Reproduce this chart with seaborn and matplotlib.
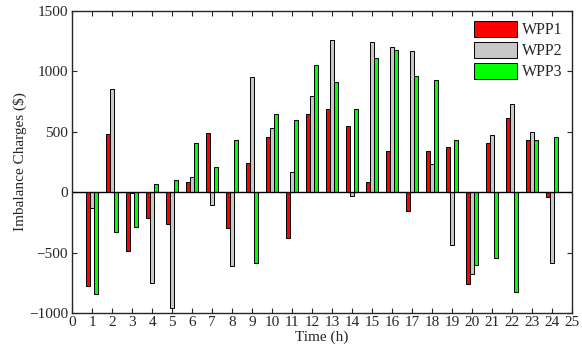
import pandas as pd
import numpy as np
import matplotlib
matplotlib.use("Agg")
import matplotlib.pyplot as plt
import seaborn as sns

hours = list(range(1, 25))
wpp1 = [-780, 480, -490, -215, -260, 85, 490, -300, 245, 455, -380, 650,
        685, 545, 80, 340, -160, 340, 375, -760, 405, 610, 430, -40]
wpp2 = [-130, 850, -10, -755, -960, 125, -110, -615, 950, 530, 165, 800,
        1260, -30, 1240, 1205, 1165, 230, -435, -680, 475, 730, 500, -590]
wpp3 = [-840, -330, -290, 65, 100, 410, 205, 435, -585, 645, 600, 1055,
        910, 685, 1110, 1175, 960, 925, 430, -600, -545, -825, 435, 455]

df = pd.DataFrame({"Hour": hours * 3,
                   "Value": wpp1 + wpp2 + wpp3,
                   "Plant": ["WPP1"] * 24 + ["WPP2"] * 24 + ["WPP3"] * 24})

sns.set_style("ticks")
plt.rcParams['font.family'] = ['Liberation Serif', 'DejaVu Serif']
plt.rcParams['mathtext.fontset'] = 'stix'

fig = plt.figure(figsize=(5.82, 3.54), dpi=100)
ax = fig.add_axes([0.124, 0.116, 0.859, 0.853])

palette = {"WPP1": "#ff0000", "WPP2": "#c8c8c8", "WPP3": "#00ff00"}
sns.barplot(data=df, x="Hour", y="Value", hue="Plant", palette=palette,
            native_scale=True, width=0.6, edgecolor="black", linewidth=0.7,
            saturation=1, ax=ax, errorbar=None)

ax.axhline(0, color="black", linewidth=1)
ax.set_xlim(0, 25)
ax.set_ylim(-1000, 1500)
ax.set_xticks(range(0, 26))
ax.set_yticks([-1000, -500, 0, 500, 1000, 1500])
ax.tick_params(direction="in", top=True, right=True, labelsize=11,
               length=3.5, width=0.8)
ax.tick_params(axis="x", pad=2)
ax.tick_params(axis="y", pad=3)
for s in ax.spines.values():
    s.set_linewidth(1)
ax.set_xlabel("Time (h)", fontsize=11, labelpad=1)
ax.set_ylabel(r"Imbalance Charges (\$)", fontsize=11, labelpad=1)

ax.legend(loc="upper right", frameon=False, fontsize=11.5,
          handlelength=2.7, handleheight=1.25, handletextpad=0.3,
          labelspacing=0.2, borderaxespad=0.2)

fig.savefig("out.png", dpi=100)
